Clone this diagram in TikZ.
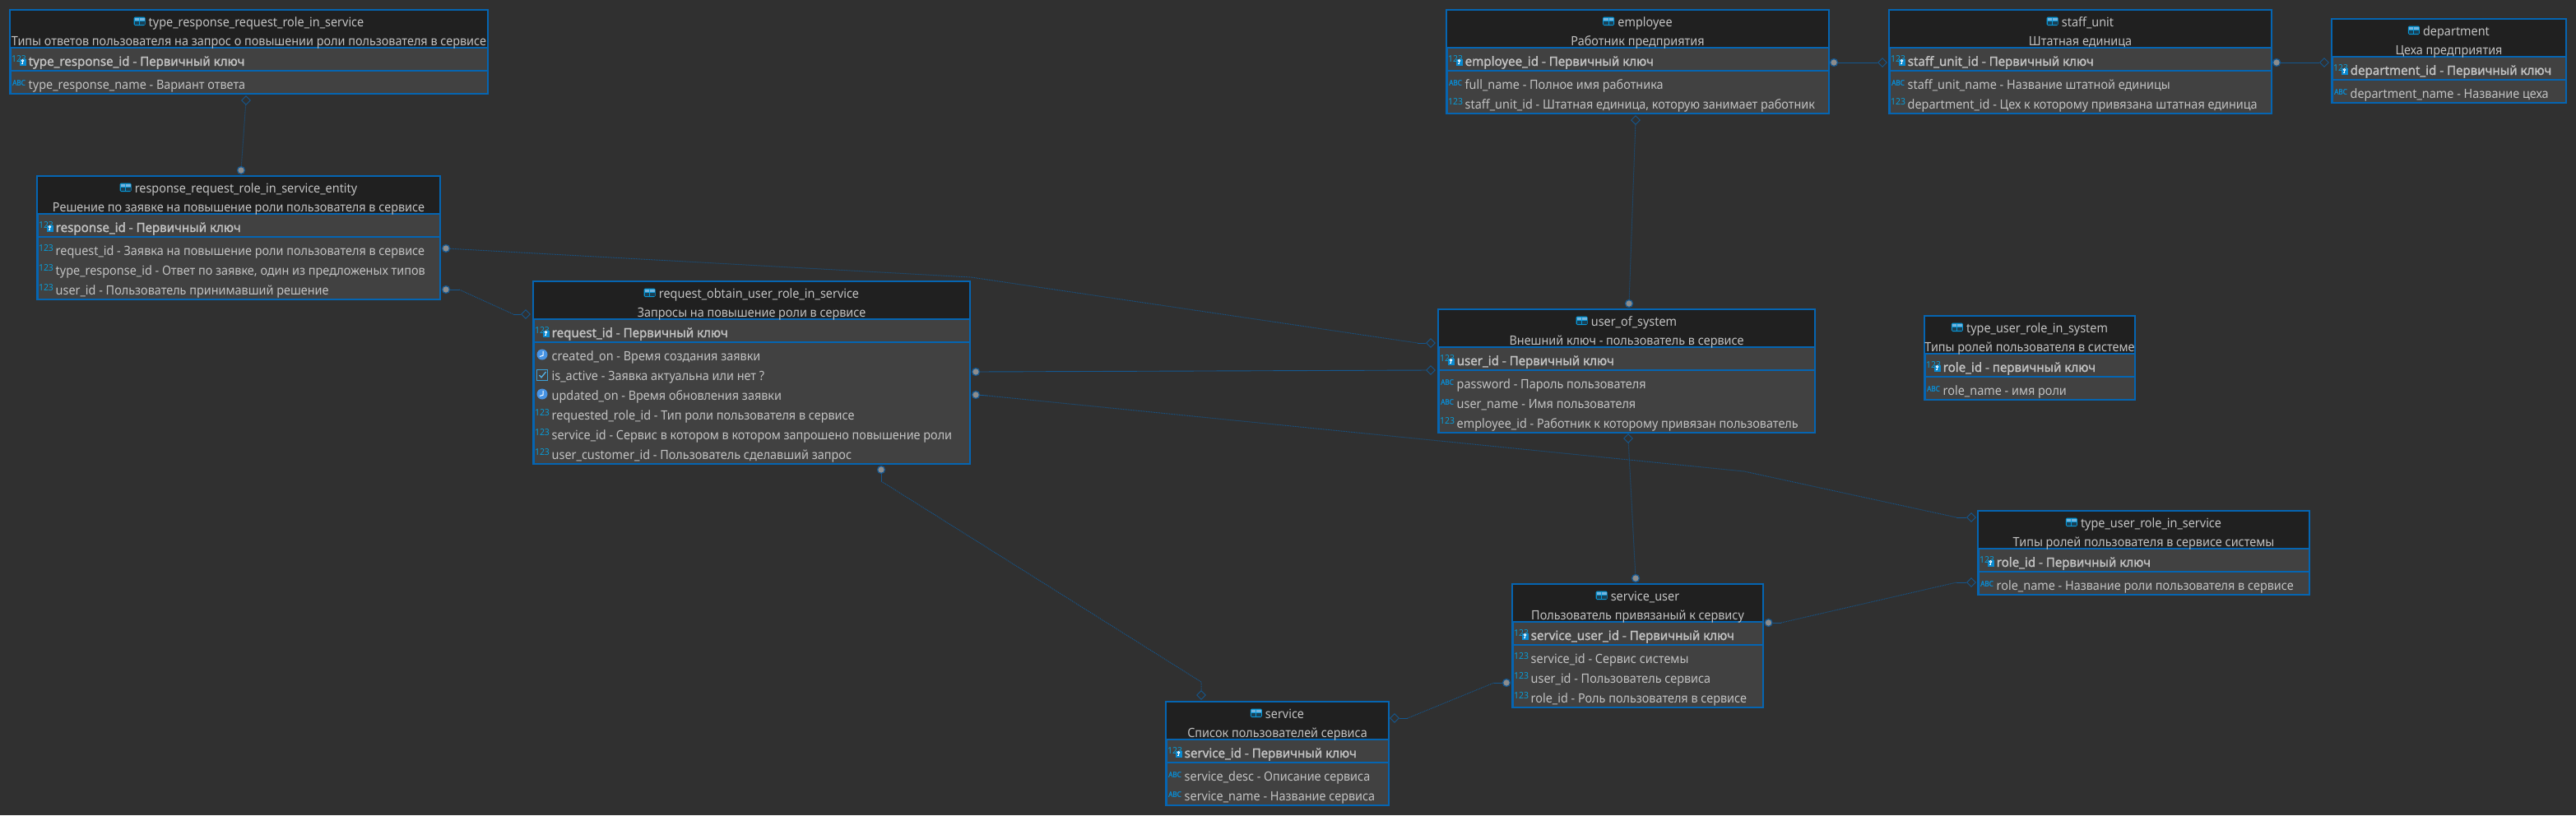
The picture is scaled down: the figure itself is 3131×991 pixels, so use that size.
\documentclass[tikz,border=0pt]{standalone}
\usepackage{fontspec}
\setmainfont{Noto Sans}[FakeStretch=0.93]
\newfontfamily\pkfont{Noto Sans}[FakeStretch=0.975,FakeBold=1.6]
\newfontfamily\icf{Noto Sans}[FakeStretch=0.95]
\newfontfamily\icb{Noto Sans}[FakeStretch=0.9,FakeBold=2]
\usetikzlibrary{shapes.geometric}
\definecolor{bgc}{HTML}{303030}
\definecolor{headc}{HTML}{202020}
\definecolor{rowc}{HTML}{414141}
\definecolor{edgec}{HTML}{0565B2}
\definecolor{txtc}{HTML}{C2C2C2}
\definecolor{icc}{HTML}{0A8AD0}
\definecolor{linkc}{HTML}{14578F}
\tikzset{
 ertable/.style={draw=edgec,fill=rowc,line width=2.5pt,inner sep=0pt,rectangle},
 erhead/.style={fill=headc},
 erdiv/.style={draw=edgec,line width=1.4pt},
 ertitle/.style={anchor=base,inner sep=0pt,text=txtc,font=\fontsize{15.5}{18}\selectfont},
 erpk/.style={anchor=base west,inner sep=0pt,text=txtc,font=\pkfont\fontsize{15.5}{18}\selectfont},
 erfld/.style={anchor=base west,inner sep=0pt,text=txtc,font=\fontsize{15.5}{18}\selectfont},
 ernum/.style={anchor=center,inner sep=0pt,text=icc!85!cyan,font=\icf\fontsize{11}{11}\selectfont},
 erabc/.style={anchor=center,inner sep=0pt,text=icc,font=\icb\fontsize{9}{9}\selectfont},
 erdot/.style={circle,draw=linkc,fill=black!0!gray!90!white,line width=1.3pt,minimum size=9pt,inner sep=0pt},
 erdia/.style={diamond,draw=linkc,line width=.9pt,minimum width=11pt,minimum height=11pt,inner sep=0pt,aspect=1},
 solidlink/.style={draw=linkc,line width=.9pt},
 dotlink/.style={draw=linkc,line width=1pt,dash pattern=on 1pt off 1pt},
}
\newcommand\tblicon[1]{%
 \begin{scope}[shift={(#1.base west)}]
  \fill[icc!90!cyan,rounded corners=1.5pt] (-18,-11.5) rectangle (-4,-1);
  \fill[cyan!35!icc!60!white] (-17,-10.5) rectangle (-11.5,-6.8);
  \fill[cyan!35!icc!60!white] (-10.5,-10.5) rectangle (-5,-6.8);
  \fill[headc!70!icc] (-17,-5.8) rectangle (-11.5,-2);
  \fill[headc!70!icc] (-10.5,-5.8) rectangle (-5,-2);
 \end{scope}}
\newcommand\ertbl[7]{%
 \def\tn{#1}\def\tx{#2}\def\ty{#3}%
 \pgfmathsetmacro\tw{#4-#2-2.5}\pgfmathsetmacro\th{80+24*#5-2.5}%
 \node[ertable,minimum width=\tw pt,minimum height=\th pt,anchor=north west] (#1) at (#2,#3) {};
 \fill[erhead] ([xshift=2pt,yshift=-2pt]#1.north west) rectangle ([xshift=-2pt,yshift=-47pt]#1.north east);
 \draw[erdiv] ([xshift=1pt,yshift=-47pt]#1.north west) -- ([xshift=-1pt,yshift=-47pt]#1.north east);
 \draw[erdiv] ([xshift=1pt,yshift=-75pt]#1.north west) -- ([xshift=-1pt,yshift=-75pt]#1.north east);
 \pgfmathsetmacro\tcx{(#2+#4)/2}\pgfmathsetmacro\tix{\tcx+9}%
 \node[ertitle] (#1-title) at (\tix,#3+21) {#6};
 \tblicon{#1-title}
 \node[ertitle] (#1-comment) at (\tcx,#3+44) {#7};
}
\newcommand\keyicon[2]{% x, y of the row icon centre
 \fill[icc] (#1+0.5,#2+0.5) rectangle (#1+8.5,#2+8.5);
 \draw[white,line width=.9pt] (#1+4.5,#2+2.8) circle (1.3);
 \draw[white,line width=.9pt] (#1+4.5,#2+4.2) -- (#1+4.5,#2+7);
 \draw[white,line width=.7pt] (#1+4.5,#2+6.8) -- (#1+3,#2+6.8);
}
\newcommand\erpkrow[2]{%
 \pgfmathsetmacro\ix{\tx+12}\pgfmathsetmacro\iy{\ty+61}%
 \node[ernum] (\tn-pki) at (\ix,\iy) {123};
 \keyicon{\ix}{\iy-1}
 \pgfmathsetmacro\fx{\tx+23.5}%
 \node[erpk] (\tn-pk) at (\fx,\ty+69) {#1 - #2};
}
% field row: #1 index, #2 icon kind, #3 text
\newcommand\erfield[3]{%
 \pgfmathsetmacro\fy{\ty+97+24*#1}\pgfmathsetmacro\ix{\tx+12}\pgfmathsetmacro\iy{\fy-8}%
 \pgfmathsetmacro\fx{\tx+23.5}%
 \csname ic#2\endcsname{\tn-i#1}%
 \node[erfld] (\tn-f#1) at (\fx,\fy) {#3};
}
\newcommand\icnum[1]{\node[ernum] (#1) at (\ix,\iy) {123};}
\newcommand\icabc[1]{\node[erabc] (#1) at (\ix,\iy+0.5) {ABC};}
\newcommand\icclock[1]{%
 \node[circle,fill=icc!70!white!85!blue,minimum size=13pt,inner sep=0pt] (#1) at (\ix,\iy+1) {};
 \draw[white,line width=1pt] (\ix+1,\iy-3) -- (\ix+1,\iy+2.2) -- (\ix-3,\iy+3.4);
}
\newcommand\iccheck[1]{%
 \node[rectangle,draw=icc!80!white,line width=1pt,minimum size=12.5pt,inner sep=0pt] (#1) at (\ix,\iy+2) {};
 \draw[icc!70!white,line width=1.4pt] (\ix-3.5,\iy+2) -- (\ix-1,\iy+4.8) -- (\ix+4.5,\iy-2);
}
\begin{document}
\begin{tikzpicture}[x=1pt,y=-1pt]
\useasboundingbox (0,0) rectangle (3131,991);
\fill[bgc] (0,0) rectangle (3131,991);

% connectors first, tables above
\node[erdia] (k1) at (299,122) {};
\node[erdot] (d1) at (293,207) {};
\draw[dotlink] (k1) -- (d1);

\node[erdot] (d2) at (542,302) {};
\coordinate (b2a) at (1180,337);
\coordinate (b2b) at (1723,417);
\node[erdia] (k2) at (1739,417) {};
\draw[dotlink] (d2) -- (b2a) -- (b2b);
\draw[solidlink] (b2b) -- (k2);

\node[erdot] (d3) at (542,352) {};
\coordinate (b3a) at (558,352);
\coordinate (b3b) at (624,382);
\node[erdia] (k3) at (639,382) {};
\draw[solidlink] (d3) -- (b3a);
\draw[dotlink] (b3a) -- (b3b);
\draw[solidlink] (b3b) -- (k3);

\node[erdot] (d4) at (1186,452) {};
\node[erdia] (k4) at (1739,450) {};
\draw[solidlink] (d4) -- (k4);

\node[erdot] (d5) at (1186,480) {};
\coordinate (b5a) at (1200,481);
\coordinate (b5b) at (2120,573);
\coordinate (b5c) at (2378,629);
\node[erdia] (k5) at (2396,629) {};
\draw[solidlink] (d5) -- (b5a);
\draw[dotlink] (b5a) -- (b5b) -- (b5c);
\draw[solidlink] (b5c) -- (k5);

\node[erdot] (d6) at (1071,571) {};
\coordinate (b6a) at (1071,585);
\coordinate (b6b) at (1460,829);
\node[erdia] (k6) at (1460,845) {};
\draw[solidlink] (d6) -- (b6a);
\draw[dotlink] (b6a) -- (b6b) -- (k6);

\node[erdia] (k7) at (1695,873) {};
\coordinate (b7a) at (1711,873);
\coordinate (b7b) at (1816,830);
\node[erdot] (d7) at (1831,830) {};
\draw[solidlink] (k7) -- (b7a);
\draw[dotlink] (b7a) -- (b7b);
\draw[solidlink] (b7b) -- (d7);

\node[erdot] (d8) at (2149.5,757) {};
\coordinate (b8a) at (2165,757);
\coordinate (b8b) at (2378,708);
\node[erdia] (k8) at (2396,708) {};
\draw[solidlink] (d8) -- (b8a);
\draw[dotlink] (b8a) -- (b8b);
\draw[solidlink] (b8b) -- (k8);

\node[erdia] (k9) at (1988,146) {};
\node[erdot] (d9) at (1980,369) {};
\draw[dotlink] (k9) -- (d9);

\node[erdia] (k10) at (1979,533) {};
\node[erdot] (d10) at (1988,703) {};
\draw[dotlink] (k10) -- (d10);

\node[erdot] (d11) at (2229,76) {};
\node[erdia] (k11) at (2288,76) {};
\draw[solidlink] (d11) -- (k11);

\node[erdot] (d12) at (2767,76) {};
\node[erdia] (k12) at (2825,76) {};
\draw[solidlink] (d12) -- (k12);

% tables
\ertbl{trr}{11}{11}{594}{1}{type\_response\_request\_role\_in\_service}{Типы ответов пользователя на запрос о повышении роли пользователя в сервисе}
\erpkrow{type\_response\_id}{Первичный ключ}
\erfield{0}{abc}{type\_response\_name - Вариант ответа}

\ertbl{rrr}{44}{213}{536}{3}{response\_request\_role\_in\_service\_entity}{Решение по заявке на повышение роли пользователя в сервисе}
\erpkrow{response\_id}{Первичный ключ}
\erfield{0}{num}{request\_id - Заявка на повышение роли пользователя в сервисе}
\erfield{1}{num}{type\_response\_id - Ответ по заявке, один из предложеных типов}
\erfield{2}{num}{user\_id - Пользователь принимавший решение}

\ertbl{req}{647}{341}{1180}{6}{request\_obtain\_user\_role\_in\_service}{Запросы на повышение роли в сервисе}
\erpkrow{request\_id}{Первичный ключ}
\erfield{0}{clock}{created\_on - Время создания заявки}
\erfield{1}{check}{is\_active - Заявка актуальна или нет ?}
\erfield{2}{clock}{updated\_on - Время обновления заявки}
\erfield{3}{num}{requested\_role\_id - Тип роли пользователя в сервисе}
\erfield{4}{num}{service\_id - Сервис в котором в котором запрошено повышение роли}
\erfield{5}{num}{user\_customer\_id - Пользователь сделавший запрос}

\ertbl{emp}{1757}{11}{2224}{2}{employee}{Работник предприятия}
\erpkrow{employee\_id}{Первичный ключ}
\erfield{0}{abc}{full\_name - Полное имя работника}
\erfield{1}{num}{staff\_unit\_id - Штатная единица, которую занимает работник}

\ertbl{stf}{2295}{11}{2762}{2}{staff\_unit}{Штатная единица}
\erpkrow{staff\_unit\_id}{Первичный ключ}
\erfield{0}{abc}{staff\_unit\_name - Название штатной единицы}
\erfield{1}{num}{department\_id - Цех к которому привязана штатная единица}

\ertbl{dep}{2833}{22}{3120}{1}{department}{Цеха предприятия}
\erpkrow{department\_id}{Первичный ключ}
\erfield{0}{abc}{department\_name - Название цеха}

\ertbl{usr}{1747}{375}{2207}{3}{user\_of\_system}{Внешний ключ - пользователь в сервисе}
\erpkrow{user\_id}{Первичный ключ}
\erfield{0}{abc}{password - Пароль пользователя}
\erfield{1}{abc}{user\_name - Имя пользователя}
\erfield{2}{num}{employee\_id - Работник к которому привязан пользователь}

\ertbl{tsy}{2338}{383}{2596}{1}{type\_user\_role\_in\_system}{Типы ролей пользователя в системе}
\erpkrow{role\_id}{первичный ключ}
\erfield{0}{abc}{role\_name - имя роли}

\ertbl{tse}{2403}{620}{2808}{1}{type\_user\_role\_in\_service}{Типы ролей пользователя в сервисе системы}
\erpkrow{role\_id}{Первичный ключ}
\erfield{0}{abc}{role\_name - Название роли пользователя в сервисе}

\ertbl{sus}{1837}{709}{2144}{3}{service\_user}{Пользователь привязаный к сервису}
\erpkrow{service\_user\_id}{Первичный ключ}
\erfield{0}{num}{service\_id - Сервис системы}
\erfield{1}{num}{user\_id - Пользователь сервиса}
\erfield{2}{num}{role\_id - Роль пользователя в сервисе}

\ertbl{svc}{1416}{852}{1689}{2}{service}{Список пользователей сервиса}
\erpkrow{service\_id}{Первичный ключ}
\erfield{0}{abc}{service\_desc - Описание сервиса}
\erfield{1}{abc}{service\_name - Название сервиса}
\end{tikzpicture}
\end{document}
